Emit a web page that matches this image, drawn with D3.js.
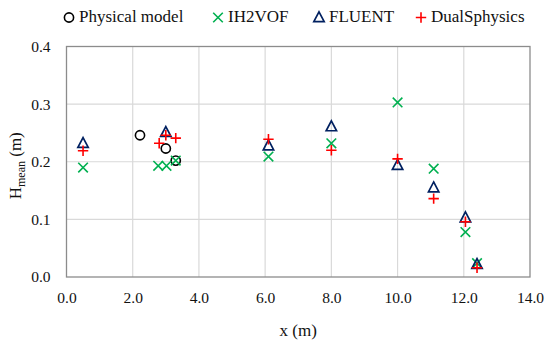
<!DOCTYPE html>
<html>
<head>
<meta charset="utf-8">
<script src="https://cdn.jsdelivr.net/npm/d3@7"></script>
<style>
  body { margin: 0; background: #fff; }
  svg { display: block; font-family: "Liberation Serif", "DejaVu Serif", serif; }
</style>
</head>
<body>
<div id="chart"></div>
<script>
const xTicks = [0, 2, 4, 6, 8, 10, 12, 14];
const yTicks = [0, 0.1, 0.2, 0.3, 0.4];

const physX = [2.22, 3.0, 3.3];
const physY = [0.246, 0.223, 0.202];

const ihX = [0.5, 2.77, 3.02, 3.3, 6.1, 8.0, 10.0, 11.09, 12.05, 12.4];
const ihY = [0.190, 0.193, 0.193, 0.202, 0.209, 0.232, 0.303, 0.188, 0.078, 0.024];

const fluentX = [0.5, 3.0, 6.1, 8.0, 10.0, 11.09, 12.05, 12.4];
const fluentY = [0.232, 0.251, 0.228, 0.261, 0.194, 0.155, 0.103, 0.022];

const dualX = [0.5, 2.8, 3.0, 3.3, 6.1, 8.0, 10.0, 11.09, 12.05, 12.4];
const dualY = [0.219, 0.232, 0.246, 0.241, 0.239, 0.220, 0.205, 0.136, 0.096, 0.016];

const width = 550, height = 345;
const margin = { left: 66.5, right: 20, top: 46.5, bottom: 68 };

const svg = d3.select('#chart').append('svg')
    .attr('width', width)
    .attr('height', height);

const x = d3.scaleLinear().domain([0, 14]).range([margin.left, width - margin.right]);
const y = d3.scaleLinear().domain([0, 0.4]).range([height - margin.bottom, margin.top]);

// gridlines
svg.append('g')
    .selectAll('line.vg')
    .data(xTicks.slice(1, -1))
    .enter().append('line')
    .attr('x1', d => x(d)).attr('x2', d => x(d))
    .attr('y1', y(0)).attr('y2', y(0.4))
    .attr('stroke', '#d9d9d9').attr('stroke-width', 1.2);

svg.append('g')
    .selectAll('line.hg')
    .data(yTicks.slice(1))
    .enter().append('line')
    .attr('x1', x(0)).attr('x2', x(14))
    .attr('y1', d => y(d)).attr('y2', d => y(d))
    .attr('stroke', '#d9d9d9').attr('stroke-width', 1.2);

// axes
const xAxis = svg.append('g')
    .attr('transform', `translate(0,${y(0)})`)
    .call(d3.axisBottom(x).tickValues(xTicks).tickFormat(d3.format('.1f')).tickSize(0).tickPadding(15));
const yAxis = svg.append('g')
    .attr('transform', `translate(${x(0)},0)`)
    .call(d3.axisLeft(y).tickValues(yTicks).tickFormat(d3.format('.1f')).tickSize(0).tickPadding(16));

[xAxis, yAxis].forEach(a => {
    a.select('.domain').remove();
    a.selectAll('text')
        .attr('font-family', '"Liberation Serif", "DejaVu Serif", serif')
        .attr('font-size', 15.5)
        .attr('fill', '#111');
});

// plot border
svg.append('rect')
    .attr('x', x(0)).attr('y', y(0.4))
    .attr('width', x(14) - x(0)).attr('height', y(0) - y(0.4))
    .attr('fill', 'none').attr('stroke', '#8c8c8c').attr('stroke-width', 1.3);

// axis titles
svg.append('text')
    .attr('x', (x(0) + x(14)) / 2).attr('y', 336)
    .attr('text-anchor', 'middle')
    .attr('font-size', 17).attr('fill', '#111')
    .text('x (m)');

const yt = svg.append('text')
    .attr('transform', `translate(21,${(y(0) + y(0.4)) / 2 + 4}) rotate(-90)`)
    .attr('text-anchor', 'middle')
    .attr('font-size', 17).attr('fill', '#111');
yt.append('tspan').text('H');
yt.append('tspan').attr('font-size', 12).attr('dy', 4).text('mean');
yt.append('tspan').attr('dy', -4).text(' (m)');

// marker drawers
const colors = { phys: '#000000', ih: '#00b050', fluent: '#002060', dual: '#ff0000' };

function drawCircle(g, cx, cy) {
    g.append('circle').attr('cx', cx).attr('cy', cy).attr('r', 4.6)
        .attr('fill', 'none').attr('stroke', colors.phys).attr('stroke-width', 1.6);
}
function drawCross(g, cx, cy) {
    const s = 4.8;
    g.append('path')
        .attr('d', `M${cx - s},${cy - s}L${cx + s},${cy + s}M${cx - s},${cy + s}L${cx + s},${cy - s}`)
        .attr('stroke', colors.ih).attr('stroke-width', 1.6).attr('fill', 'none');
}
function drawTri(g, cx, cy) {
    const s = 5.2;
    g.append('path')
        .attr('d', `M${cx},${cy - s * 1.1}L${cx + s},${cy + s * 0.8}L${cx - s},${cy + s * 0.8}Z`)
        .attr('stroke', colors.fluent).attr('stroke-width', 1.7).attr('fill', 'none');
}
function drawPlus(g, cx, cy) {
    const s = 5.2;
    g.append('path')
        .attr('d', `M${cx - s},${cy}L${cx + s},${cy}M${cx},${cy - s}L${cx},${cy + s}`)
        .attr('stroke', colors.dual).attr('stroke-width', 1.6).attr('fill', 'none');
}

const marks = svg.append('g');
physX.forEach((v, i) => drawCircle(marks, x(v), y(physY[i])));
ihX.forEach((v, i) => drawCross(marks, x(v), y(ihY[i])));
fluentX.forEach((v, i) => drawTri(marks, x(v), y(fluentY[i])));
dualX.forEach((v, i) => drawPlus(marks, x(v), y(dualY[i])));

// legend
const legend = [
    { name: 'Physical model', draw: drawCircle, x: 69 },
    { name: 'IH2VOF', draw: drawCross, x: 218 },
    { name: 'FLUENT', draw: drawTri, x: 319 },
    { name: 'DualSphysics', draw: drawPlus, x: 421 }
];
const lg = svg.append('g');
legend.forEach(d => {
    d.draw(lg, d.x, 17.5);
    lg.append('text')
        .attr('x', d.x + 10).attr('y', 22)
        .attr('font-size', 17).attr('fill', '#111')
        .text(d.name);
});
</script>
</body>
</html>
